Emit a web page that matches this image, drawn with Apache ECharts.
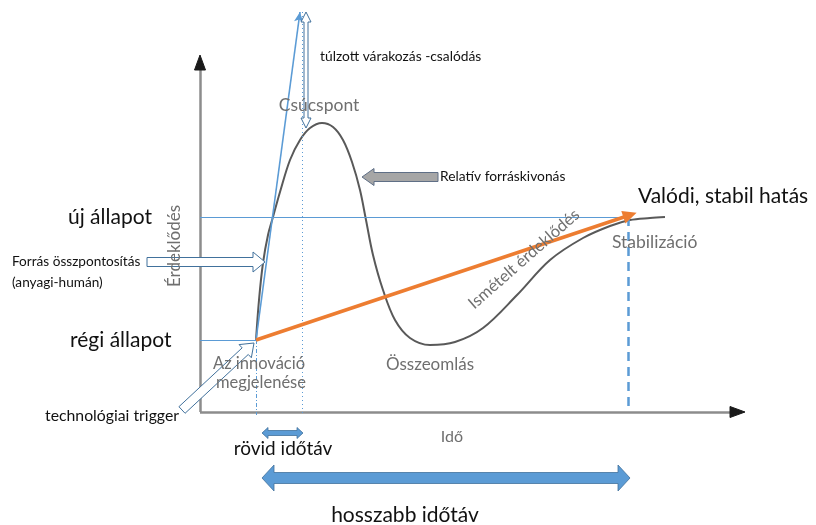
<!DOCTYPE html>
<html><head><meta charset="utf-8">
<script src="https://cdn.jsdelivr.net/npm/echarts@6/dist/echarts.min.js"></script>
<style>html,body{margin:0;padding:0;background:#fff}#c{width:816px;height:525px}</style>
</head><body><div id="c"></div>
<script>
// ---- data (x = time, y = interest) ----
const hypeTime     = [56, 59, 63, 68, 73, 80, 90, 100, 110, 122, 133, 143, 152, 160, 166, 173, 183, 195, 210, 230, 255, 283, 317, 350, 383, 410, 430, 450, 465];
const hypeInterest = [72, 112, 149, 177, 195, 220, 252, 272, 284, 289, 285, 272, 250, 222, 192, 157, 122, 92, 74, 67, 70, 84, 117, 152, 174, 186, 192, 194, 195];
const stateNames  = ['régi állapot', 'új állapot'];
const stateLevels = [72, 195];
const triggerTime = 56;     // innovation appears
const peakTime    = 102;    // peak of expectations
const stableTime  = 428;    // stabilisation
const expectationLine = [[56, 72], [100, 400]];
const realTrend       = [[56, 72], [430, 197]];
const axisX = [[0, 0], [545, 0]];
const axisY = [[0, 0], [0, 357]];
const gapArrow      = [[106, 400, 106, 284]];
const withdrawArrow = [[238, 235, 162, 235]];
const focusArrow    = [[-53, 150, 65, 150]];
const triggerArrow  = [[-18, 2, 54, 69]];
const shortSpan     = [[62, -21, 103, -21]];
const longSpan      = [[62, -66, 430, -66]];

const chart = echarts.init(document.getElementById('c'), null, {renderer: 'canvas'});

function arrowPts(p0, p1, w, h, L, both) {
  const dx = p1[0] - p0[0], dy = p1[1] - p0[1];
  const len = Math.hypot(dx, dy), ux = dx / len, uy = dy / len, nx = -uy, ny = ux;
  const pt = (b, a, s) => [b[0] + ux * a + nx * s, b[1] + uy * a + ny * s];
  if (both) {
    return [p0, pt(p0, L, h), pt(p0, L, w), pt(p1, -L, w), pt(p1, -L, h), p1,
            pt(p1, -L, -h), pt(p1, -L, -w), pt(p0, L, -w), pt(p0, L, -h)];
  }
  return [pt(p0, 0, w), pt(p1, -L, w), pt(p1, -L, h), p1, pt(p1, -L, -h), pt(p1, -L, -w), pt(p0, 0, -w)];
}
function blockArrow(name, data, o) {
  return {
    type: 'custom', name, data, clip: false, silent: true, z: o.z || 5,
    encode: {x: [0, 2], y: [1, 3]},
    renderItem: (params, api) => {
      const p0 = api.coord([api.value(0), api.value(1)]);
      const p1 = api.coord([api.value(2), api.value(3)]);
      return {type: 'polygon', shape: {points: arrowPts(p0, p1, o.w, o.h, o.L, o.both)},
              style: {fill: o.fill, stroke: o.stroke, lineWidth: o.lw || 1}};
    }
  };
}
function seg(a, b, style, endSym, endSize) {
  return [{coord: a, symbol: 'none', lineStyle: style},
          {coord: b, symbol: endSym || 'none', symbolSize: endSize || 8}];
}
const blue = '#5b9bd5';
const markLines = [
  seg(axisX[0], [530, 0], {color: '#8c8c8c', width: 2.5, type: 'solid'}),
  seg(axisY[0], [0, 342], {color: '#8c8c8c', width: 2.5, type: 'solid'}),
  seg([0, stateLevels[1]], [stableTime, stateLevels[1]], {color: blue, width: 1, type: 'solid'}),
  seg([0, stateLevels[0]], [triggerTime, stateLevels[0]], {color: blue, width: 1, type: 'solid'}),
  seg([triggerTime, stateLevels[0]], [triggerTime, -3], {color: blue, width: 1, type: [4, 2, 1, 2]}),
  seg([peakTime, 400], [peakTime, -3], {color: blue, width: 1, type: [1, 3]}),
  seg([stableTime, stateLevels[1]], [stableTime, 0], {color: blue, width: 2.5, type: [9, 6]}),
  seg(expectationLine[0], expectationLine[1], {color: blue, width: 1.6, type: 'solid'}, 'arrow', [7, 10]),
  seg(realTrend[0], realTrend[1], {color: '#ed7d31', width: 3.5, type: 'solid'}, 'triangle', [13, 14])
];

const F = 'Lato, "Open Sans", sans-serif';
function txt(text, x, y, size, color, align, extra) {
  return Object.assign({type: 'text', x, y, z: 20, silent: true,
    style: {text, font: size + 'px ' + F, fill: color, align: align || 'left', verticalAlign: 'middle'}}, extra || {});
}
const grey = '#6f6f6f';
const graphics = [
  txt('túlzott várakozás -csalódás', 320, 57, 13.8, '#111'),
  txt('Csúcspont', 319, 105, 17.5, grey, 'center'),
  txt('Relatív forráskivonás', 440, 177, 13.8, '#111'),
  txt('Valódi, stabil hatás', 638, 196, 21, '#111'),
  txt(stateNames[1], 68, 217, 21, '#111'),
  txt('Érdeklődés', 175, 246, 17, grey, 'center', {rotation: Math.PI / 2}),
  txt('Forrás összpontosítás', 12, 262, 13.6, '#111'),
  txt('(anyagi-humán)', 12, 283, 13.6, '#111'),
  txt('Stabilizáció', 612, 242, 17.5, grey),
  txt('Ismételt érdeklődés', 524, 259, 16.5, grey, 'center', {rotation: 0.72}),
  txt(stateNames[0], 70, 340, 21, '#111'),
  txt('Az innováció', 259, 364, 16.5, grey, 'center'),
  txt('megjelenése', 261, 383, 16.5, grey, 'center'),
  txt('Összeomlás', 430, 365, 17, grey, 'center'),
  txt('technológiai trigger', 179, 416, 15.8, '#111', 'right'),
  txt('Idő', 452, 437, 16, grey, 'center'),
  txt('rövid időtáv', 283, 449, 19, '#111', 'center'),
  txt('hosszabb időtáv', 405, 515, 21, '#111', 'center')
];

chart.setOption({
  animation: false,
  backgroundColor: '#fff',
  grid: {left: 0, right: 0, top: 0, bottom: 0},
  xAxis: {type: 'value', min: -200, max: 616, show: false},
  yAxis: {type: 'value', min: -113, max: 412, show: false},
  graphic: graphics,
  series: [
    {
      type: 'line', name: 'hype', clip: false, silent: true, z: 4,
      data: hypeTime.map((t, i) => [t, hypeInterest[i]]),
      smooth: 0.35, symbol: 'none',
      lineStyle: {color: '#595959', width: 2},
      markLine: {silent: true, symbol: ['none', 'none'], label: {show: false},
                 emphasis: {disabled: true}, animation: false, data: markLines}
    },
    blockArrow('axisHeadX', [[530, 0, 545, 0]], {w: 0, h: 5.5, L: 15, fill: '#1a1a1a', stroke: '#1a1a1a'}),
    blockArrow('axisHeadY', [[0, 342, 0, 357]], {w: 0, h: 5.5, L: 15, fill: '#1a1a1a', stroke: '#1a1a1a'}),
    blockArrow('gap', gapArrow, {w: 2, h: 5, L: 10, both: true, fill: '#fff', stroke: '#41719c'}),
    blockArrow('withdraw', withdrawArrow, {w: 4.5, h: 8.5, L: 12, fill: '#a6a6a6', stroke: '#5f6f86'}),
    blockArrow('focus', focusArrow, {w: 4.5, h: 10, L: 12, fill: '#fff', stroke: '#41719c'}),
    blockArrow('trigger', triggerArrow, {w: 4.5, h: 9, L: 12, fill: '#fff', stroke: '#41719c'}),
    blockArrow('short', shortSpan, {w: 2.5, h: 5.5, L: 6, both: true, fill: blue, stroke: '#41719c', lw: 0.8}),
    blockArrow('long', longSpan, {w: 5.5, h: 13, L: 12, both: true, fill: blue, stroke: '#41719c', lw: 0.8})
  ]
});
</script></body></html>
